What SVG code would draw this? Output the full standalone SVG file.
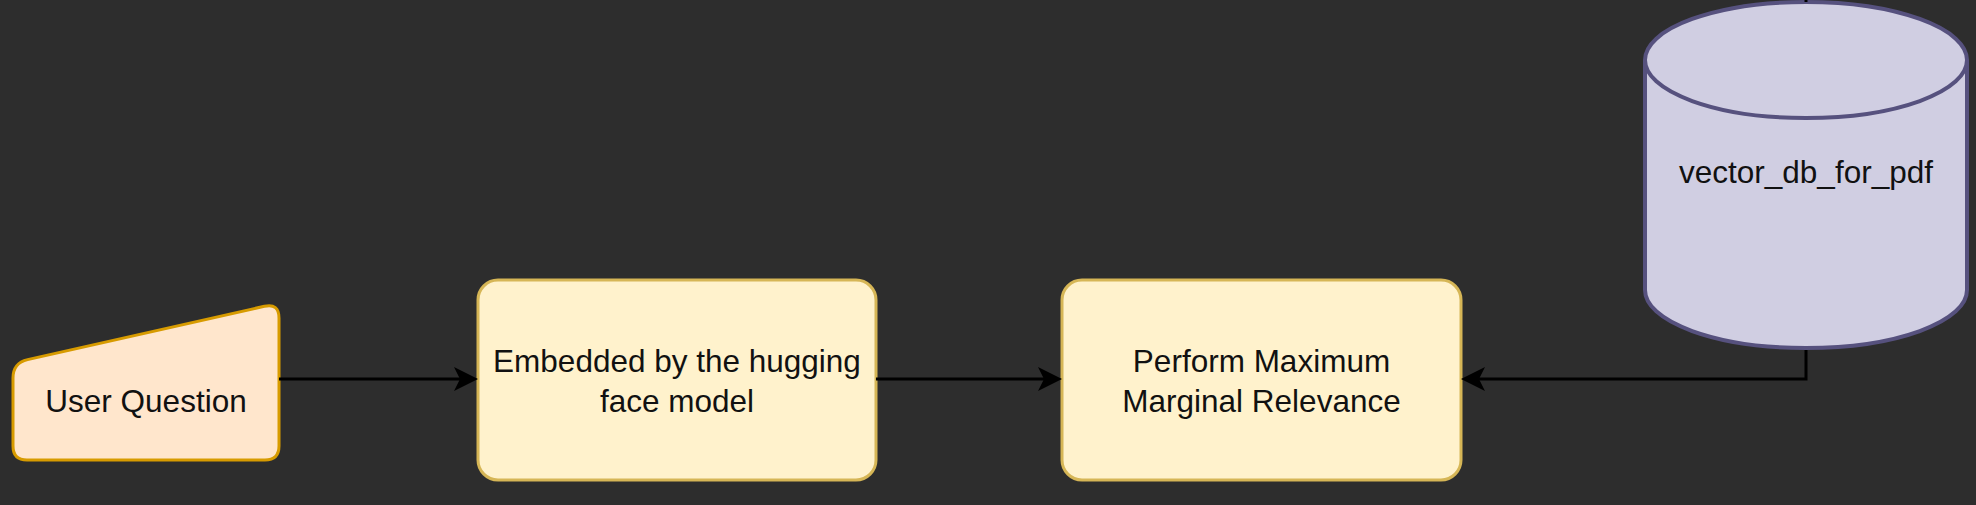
<svg xmlns="http://www.w3.org/2000/svg" width="1976" height="505" viewBox="0 0 1976 505">
<style>
.lbl{font-family:"Liberation Sans",Arial,sans-serif;font-size:31.5px;fill:#111;text-anchor:middle}
.proc{fill:#fff2cc;stroke:#d6b656;stroke-width:3}
.edge{fill:none;stroke:#000;stroke-width:3}
</style>
<defs>
<marker id="arr" markerUnits="userSpaceOnUse" markerWidth="26" markerHeight="26" viewBox="0 0 26 26" refX="6" refY="13" orient="auto">
<path d="M24,13 L0,1 L6,13 L0,25 Z" fill="#000"/>
</marker>
</defs>
<rect width="1976" height="505" fill="#2d2d2d"/>
<g id="user-question">
<path d="M13,378 Q13,363 27.6,359.6 L264.4,306.3 Q279,303 279,318 L279,446 Q279,460 265,460 L27,460 Q13,460 13,446 Z" fill="#ffe6cc" stroke="#d79b00" stroke-width="3"/>
<text class="lbl" x="146" y="412">User Question</text>
</g>
<g id="embedded">
<rect class="proc" x="478" y="280" width="398" height="200" rx="20" ry="20"/>
<text class="lbl" x="677" y="372">Embedded by the hugging</text>
<text class="lbl" x="677" y="412">face model</text>
</g>
<g id="mmr">
<rect class="proc" x="1062" y="280" width="399" height="200" rx="20" ry="20"/>
<text class="lbl" x="1261.5" y="372">Perform Maximum</text>
<text class="lbl" x="1261.5" y="412">Marginal Relevance</text>
</g>
<g id="vector-db">
<path d="M1645,60 A161,58 0 0 1 1967,60 L1967,290 A161,58 0 0 1 1645,290 Z" fill="#d0cee2" stroke="#56517e" stroke-width="4"/>
<path d="M1645,60 A161,58 0 0 0 1967,60" fill="none" stroke="#56517e" stroke-width="4"/>
<text class="lbl" x="1806" y="183">vector_db_for_pdf</text>
</g>
<g id="connectors">
<path class="edge" d="M279,379 H460" marker-end="url(#arr)"/>
<path class="edge" d="M876,379 H1044" marker-end="url(#arr)"/>
<path class="edge" d="M1806,350 V379 H1479" marker-end="url(#arr)"/>
<path class="edge" d="M1806,0 V2"/>
</g>
</svg>
